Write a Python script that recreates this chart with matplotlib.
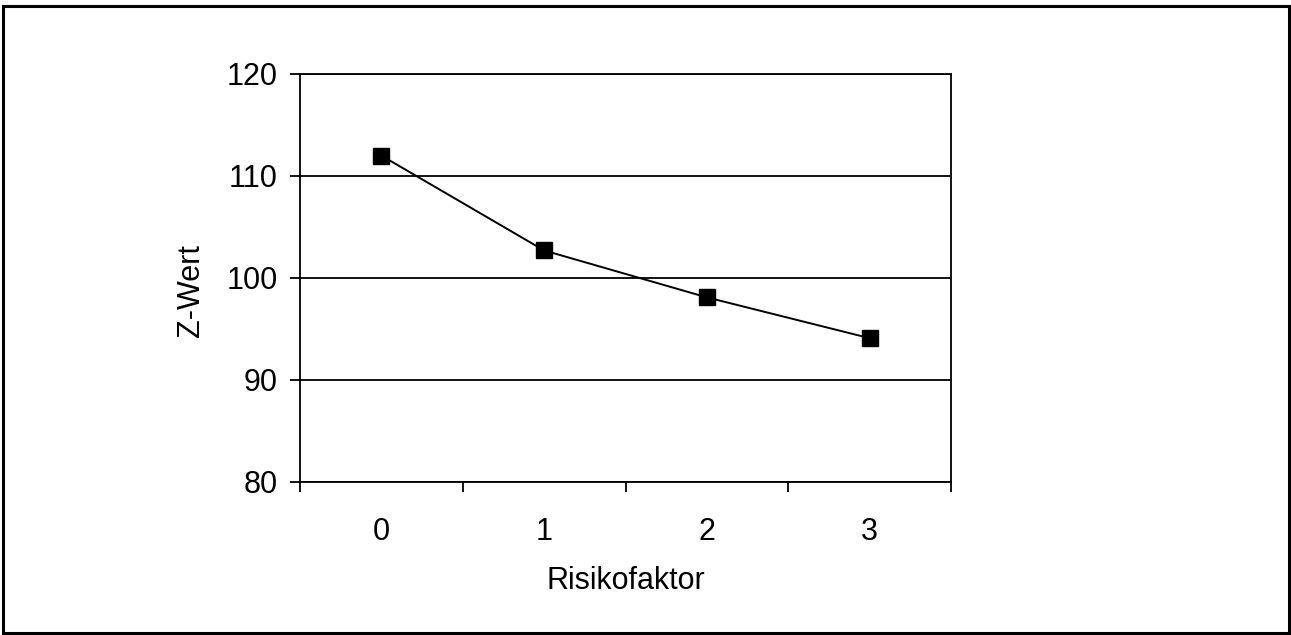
import matplotlib.pyplot as plt
from matplotlib.patches import Rectangle

# Data: Z-Wert per Risikofaktor
categories = ["0", "1", "2", "3"]
z_values = [112.0, 102.7, 98.1, 94.1]
y_ticks = [80, 90, 100, 110, 120]

plt.rcParams['font.family'] = ['Liberation Sans', 'DejaVu Sans']

fig = plt.figure(figsize=(12.91, 6.35), dpi=100)
fig.patch.set_facecolor('white')

# outer chart border
fig.patches.append(Rectangle((3 / 1291, 2 / 635), 1286 / 1291, 627 / 635,
                             transform=fig.transFigure, fill=False,
                             edgecolor='black', linewidth=2.2))

ax = fig.add_axes([300 / 1291, 153 / 635, 651 / 1291, 408 / 635])

x = list(range(len(categories)))
ax.plot(x, z_values, color='black', linewidth=1.4, marker='s',
        markersize=11.5, markerfacecolor='black', markeredgecolor='black',
        zorder=3)

ax.set_xlim(-0.5, len(categories) - 0.5)
ax.set_ylim(80, 120)
ax.set_yticks(y_ticks)
ax.yaxis.grid(True, color='black', linewidth=1.3)
ax.set_axisbelow(True)

# category boundary ticks, labels in between
ax.set_xticks([i - 0.5 for i in range(len(categories) + 1)])
ax.set_xticklabels([])
ax.set_xticks(x, minor=True)
ax.set_xticklabels(categories, minor=True, fontsize=22)
ax.tick_params(axis='x', which='major', direction='out', length=7, width=1.3)
ax.tick_params(axis='x', which='minor', length=0, pad=25)
ax.tick_params(axis='y', direction='out', length=7, width=1.3, pad=9,
               labelsize=22)

for s in ax.spines.values():
    s.set_linewidth(1.3)
    s.set_color('black')

ax.set_ylabel("Z-Wert", fontsize=22)
ax.yaxis.set_label_coords(-0.145, 0.47)
ax.set_xlabel("Risikofaktor", fontsize=22)
ax.xaxis.set_label_coords(0.5, -0.206)

fig.savefig("out.png", dpi=100)
